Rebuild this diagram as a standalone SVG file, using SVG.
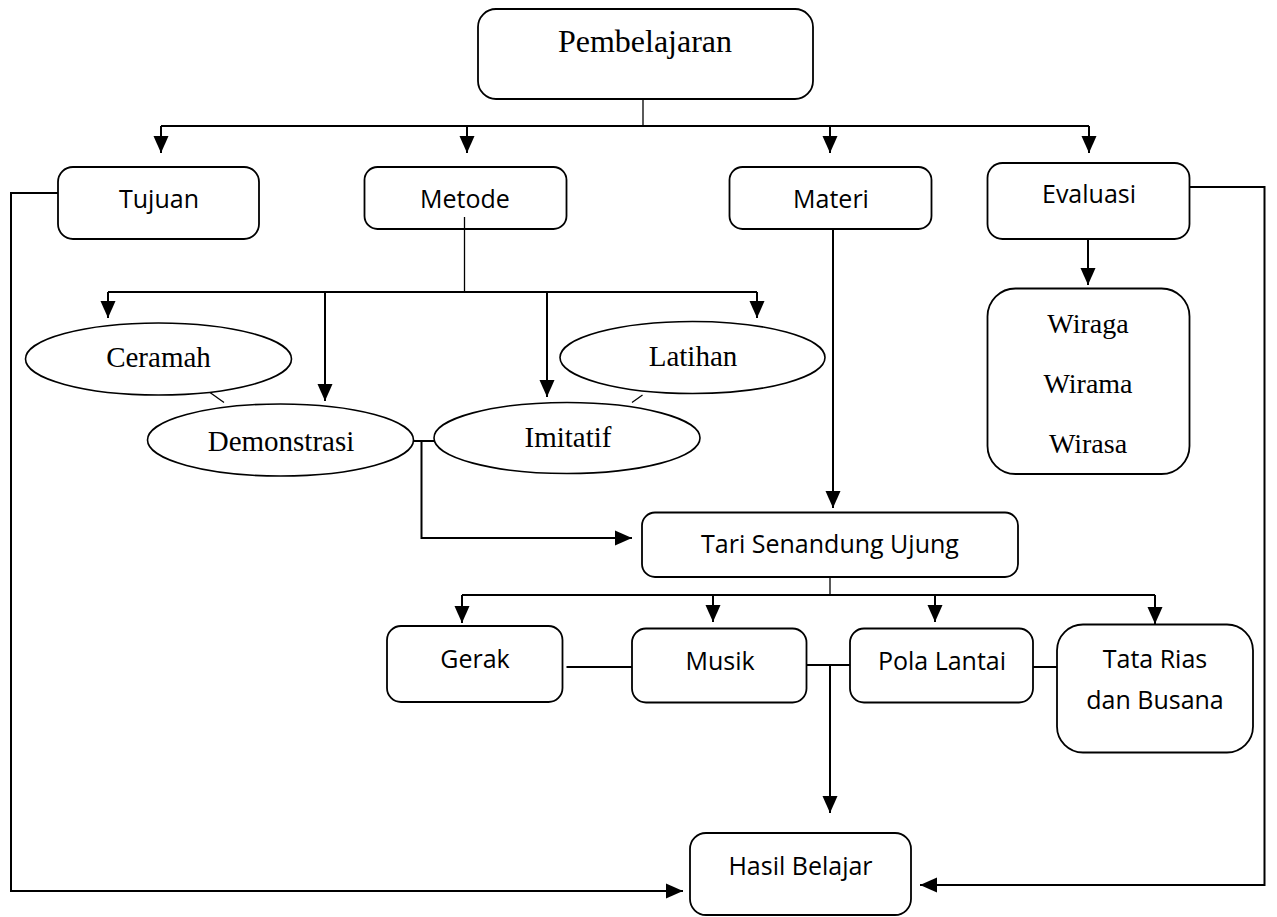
<svg xmlns="http://www.w3.org/2000/svg" width="1277" height="917" viewBox="0 0 1277 917">
<style>
.box{fill:none;stroke:#000;stroke-width:1.8}
.ell{fill:#fff;stroke:#000;stroke-width:1.6}
.ln{fill:none;stroke:#000;stroke-width:2}
.thin{fill:none;stroke:#000;stroke-width:1.3}
.sans{font-family:"Open Sans","Noto Sans",sans-serif;font-size:25px;fill:#000;text-anchor:middle}
.serif{font-family:"Liberation Serif","Times New Roman",serif;font-size:29px;fill:#000;text-anchor:middle}
</style>
<defs>
<marker id="ah" markerUnits="userSpaceOnUse" markerWidth="18" markerHeight="16" refX="17" refY="8" orient="auto">
<path d="M0,0.5 L17,8 L0,15.5 z" fill="#000"/>
</marker>
</defs>
<rect width="1277" height="917" fill="#fff"/>
<g id="connectors">
<path class="thin" d="M643,99 V126"/>
<path class="ln" d="M161,126 H1089"/>
<path class="ln" d="M161,126 V153" marker-end="url(#ah)"/>
<path class="ln" d="M467,126 V153" marker-end="url(#ah)"/>
<path class="ln" d="M830,126 V153" marker-end="url(#ah)"/>
<path class="ln" d="M1089,126 V153" marker-end="url(#ah)"/>
<path class="thin" d="M464.5,217 V292"/>
<path class="ln" d="M108,292 H757"/>
<path class="ln" d="M108,292 V318" marker-end="url(#ah)"/>
<path class="ln" d="M325,292 V401" marker-end="url(#ah)"/>
<path class="ln" d="M547,292 V397" marker-end="url(#ah)"/>
<path class="ln" d="M757,292 V318" marker-end="url(#ah)"/>
<path class="thin" d="M210,392.5 L224,402.5"/>
<path class="thin" d="M642.5,395 L632,402.5"/>
<path class="ln" d="M414,441 H434"/>
<path class="ln" d="M421.5,441 V538 H632" marker-end="url(#ah)"/>
<path class="ln" d="M833,229 V508" marker-end="url(#ah)"/>
<path class="ln" d="M1088,239 V285" marker-end="url(#ah)"/>
<path class="ln" d="M58,193 H11 V891 H683" marker-end="url(#ah)"/>
<path class="ln" d="M1189,187 H1264.5 V885 H920" marker-end="url(#ah)"/>
<path class="thin" d="M830,577 V595"/>
<path class="ln" d="M462,595 H1155"/>
<path class="ln" d="M462,595 V623" marker-end="url(#ah)"/>
<path class="ln" d="M713,595 V622" marker-end="url(#ah)"/>
<path class="ln" d="M935,595 V622" marker-end="url(#ah)"/>
<path class="ln" d="M1155,595 V624" marker-end="url(#ah)"/>
<path class="ln" d="M566.5,667 H632"/>
<path class="ln" d="M806.5,665 H850"/>
<path class="ln" d="M830,665 V813" marker-end="url(#ah)"/>
<path class="ln" d="M1033,667 H1057"/>
</g>
<g id="pembelajaran">
<rect class="box" x="478" y="9" width="335" height="90" rx="18"/>
<text class="serif" x="645" y="52" style="font-size:32px">Pembelajaran</text>
</g>
<g id="tujuan">
<rect class="box" x="58" y="167" width="201" height="72" rx="15"/>
<text class="sans" x="159" y="208">Tujuan</text>
</g>
<g id="metode">
<rect class="box" x="364.5" y="167" width="202" height="62" rx="13"/>
<text class="sans" x="465" y="208">Metode</text>
</g>
<g id="materi">
<rect class="box" x="729.5" y="167" width="202" height="62" rx="13"/>
<text class="sans" x="831" y="208">Materi</text>
</g>
<g id="evaluasi">
<rect class="box" x="987.5" y="163" width="202" height="76" rx="15"/>
<text class="sans" x="1089" y="203">Evaluasi</text>
</g>
<g id="wiraga">
<rect class="box" x="987.5" y="288.5" width="202" height="185.5" rx="28"/>
<text class="serif" x="1088" y="333" style="font-size:28px">Wiraga</text>
<text class="serif" x="1088" y="393" style="font-size:28px">Wirama</text>
<text class="serif" x="1088" y="453" style="font-size:28px">Wirasa</text>
</g>
<g id="ceramah">
<ellipse class="ell" cx="158.5" cy="359" rx="133" ry="36"/>
<text class="serif" x="158.5" y="367">Ceramah</text>
</g>
<g id="latihan">
<ellipse class="ell" cx="692.5" cy="357.5" rx="132.5" ry="36"/>
<text class="serif" x="693" y="366">Latihan</text>
</g>
<g id="demonstrasi">
<ellipse class="ell" cx="280.5" cy="440" rx="133" ry="36"/>
<text class="serif" x="281" y="450.5">Demonstrasi</text>
</g>
<g id="imitatif">
<ellipse class="ell" cx="567" cy="438" rx="133" ry="35.5"/>
<text class="serif" x="568" y="446.5">Imitatif</text>
</g>
<g id="tari">
<rect class="box" x="642" y="512.5" width="376" height="64.5" rx="13"/>
<text class="sans" x="830" y="553">Tari Senandung Ujung</text>
</g>
<g id="gerak">
<rect class="box" x="387" y="626" width="175.5" height="76" rx="14"/>
<text class="sans" x="475" y="668">Gerak</text>
</g>
<g id="musik">
<rect class="box" x="632" y="628.5" width="174.5" height="74" rx="14"/>
<text class="sans" x="720" y="670">Musik</text>
</g>
<g id="pola">
<rect class="box" x="850" y="628.5" width="183" height="74" rx="14"/>
<text class="sans" x="942" y="670">Pola Lantai</text>
</g>
<g id="tatarias">
<rect class="box" x="1057" y="624.5" width="196" height="128" rx="26"/>
<text class="sans" x="1155" y="668">Tata Rias</text>
<text class="sans" x="1155" y="709">dan Busana</text>
</g>
<g id="hasil">
<rect class="box" x="690" y="833" width="221" height="82" rx="16"/>
<text class="sans" x="800.5" y="875">Hasil Belajar</text>
</g>
</svg>
